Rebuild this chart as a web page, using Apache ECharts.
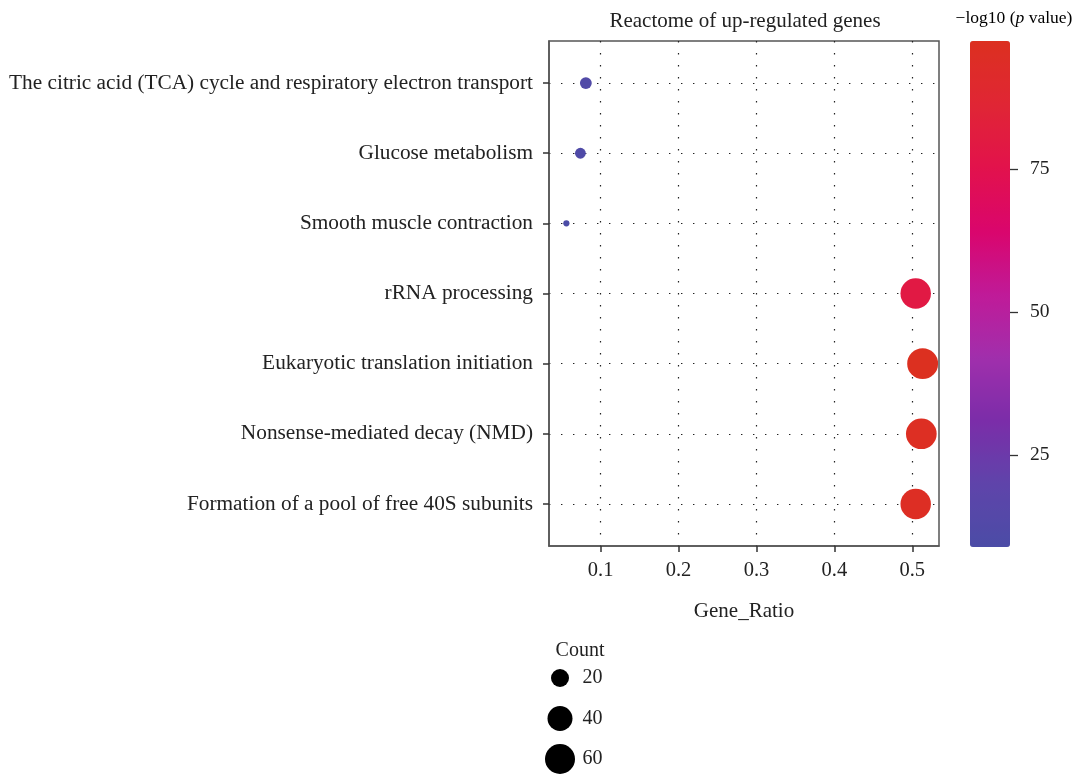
<!DOCTYPE html>
<html>
<head>
<meta charset="utf-8">
<script src="https://cdn.jsdelivr.net/npm/echarts@6/dist/echarts.min.js"></script>
<style>
    html, body { margin: 0; padding: 0; background: #fff; }
    #chart { width: 1074px; height: 775px; }
</style>
</head>
<body>
<div id="chart"></div>
<script>
(function () {
    'use strict';

    // pathways, top to bottom
    var pathways = [
        'The citric acid (TCA) cycle and respiratory electron transport',
        'Glucose metabolism',
        'Smooth muscle contraction',
        'rRNA processing',
        'Eukaryotic translation initiation',
        'Nonsense-mediated decay (NMD)',
        'Formation of a pool of free 40S subunits'
    ];
    var geneRatio = [0.081, 0.074, 0.056, 0.5044, 0.5133, 0.5116, 0.5044];
    var logP = [12, 11, 8.9, 79, 97.4, 96, 95];
    var counts = [10, 9, 7, 62, 64, 63, 62];

    var ratioTicks = [0.1, 0.2, 0.3, 0.4, 0.5];
    var colorTicks = [25, 50, 75];
    var legendCounts = [20, 40, 60];

    var FONT = 'Liberation Serif';
    var TXT = '#222';

    var cMin = Math.min.apply(null, counts);
    var cMax = Math.max.apply(null, counts);

    // ggplot-like area scale: diameter grows with sqrt of rescaled count
    function sizeOf(c) {
        var t = Math.max(0, (c - cMin) / (cMax - cMin));
        return 6.2 + 24.7 * Math.sqrt(t);
    }

    var points = pathways.map(function (name, i) {
        return [geneRatio[i], i + 1, logP[i], counts[i]];
    });

    var rowIdx = pathways.map(function (d, i) { return i + 1; });

    var chart = echarts.init(document.getElementById('chart'));

    var dotted = { type: [1.4, 10.6], color: '#222', width: 1.2 };

    chart.setOption({
        backgroundColor: '#fff',
        animation: false,
        textStyle: { fontFamily: FONT },
        grid: [
            { left: 549, top: 41, width: 390, height: 505, show: true,
              borderColor: '#555', borderWidth: 1.5, backgroundColor: 'transparent' },
            // colour bar scale, sits just right of the bar
            { left: 1010, top: 41, width: 40, height: 506 },
            { left: 550, top: 678, width: 20, height: 81 }
        ],
        xAxis: [
            {
                gridIndex: 0, type: 'value', min: 0.0337, max: 0.5343,
                axisLine: { show: true, lineStyle: { color: '#555', width: 1.5 } },
                axisTick: { show: true, length: 6, customValues: ratioTicks,
                            lineStyle: { color: '#333', width: 1.5 } },
                axisLabel: { customValues: ratioTicks, margin: 14, fontSize: 20.5,
                             color: TXT, fontFamily: FONT,
                             formatter: function (v) { return v.toFixed(1); } },
                splitLine: { show: true, lineStyle: dotted },
                name: 'Gene_Ratio', nameLocation: 'middle', nameGap: 55,
                nameTextStyle: { fontSize: 21, color: TXT, fontFamily: FONT }
            },
            { gridIndex: 1, type: 'value', show: false, min: 0, max: 1 },
            { gridIndex: 2, type: 'value', show: false, min: 0, max: 1 }
        ],
        yAxis: [
            {
                gridIndex: 0, type: 'value', min: 0.4, max: 7.6, inverse: true,
                axisLine: { show: true, lineStyle: { color: '#555', width: 1.5 } },
                axisTick: { show: true, length: 6, customValues: rowIdx,
                            lineStyle: { color: '#333', width: 1.5 } },
                axisLabel: { customValues: rowIdx, margin: 16, fontSize: 21.3,
                             color: TXT, fontFamily: FONT,
                             formatter: function (v) { return pathways[Math.round(v) - 1] || ''; } },
                splitLine: { show: true, lineStyle: dotted }
            },
            {
                gridIndex: 1, type: 'value', min: 8.9, max: 97.4, position: 'left',
                axisLine: { show: false },
                axisTick: { show: true, inside: true, length: 8, customValues: colorTicks,
                            lineStyle: { color: '#333', width: 1.3 } },
                axisLabel: { customValues: colorTicks, inside: true, margin: 20, fontSize: 19.5,
                             color: TXT, fontFamily: FONT },
                splitLine: { show: false }
            },
            { gridIndex: 2, type: 'value', show: false, min: 20, max: 60, inverse: true }
        ],
        visualMap: {
            type: 'continuous', seriesIndex: 0, dimension: 2,
            min: 8.9, max: 97.4, calculable: false, hoverLink: false,
            left: 970, top: 41, itemWidth: 40, itemHeight: 506, padding: 0,
            text: null, showLabel: false,
            inRange: {
                color: ['#4b4ca6', '#5f44aa', '#7b2da9', '#a12fac', '#c01a98',
                        '#da056c', '#e2124c', '#e02634', '#dc3020']
            }
        },
        graphic: [
            { type: 'text', x: 745, y: 21,
              style: { text: 'Reactome of up-regulated genes', font: '21px ' + FONT,
                       fill: TXT, align: 'center', verticalAlign: 'middle' } },
            { type: 'text', x: 1014, y: 18,
              style: { text: '{a|\u2212log10 (}{b|p}{a| value)}', align: 'center',
                       verticalAlign: 'middle',
                       rich: { a: { fontSize: 17.5, fontFamily: FONT, color: TXT },
                               b: { fontSize: 17.5, fontFamily: FONT, fontStyle: 'italic', color: TXT } } } },
            { type: 'text', x: 580, y: 651,
              style: { text: 'Count', font: '20px ' + FONT, fill: TXT,
                       align: 'center', verticalAlign: 'middle' } }
        ],
        series: [
            {
                type: 'scatter', xAxisIndex: 0, yAxisIndex: 0,
                data: points,
                symbolSize: function (d) { return sizeOf(d[3]); },
                itemStyle: { opacity: 1 },
                clip: false, z: 5
            },
            {
                type: 'scatter', xAxisIndex: 2, yAxisIndex: 2,
                data: legendCounts.map(function (c) { return [0.5, c]; }),
                symbolSize: function (d) { return sizeOf(d[1]); },
                itemStyle: { color: '#000', opacity: 1 },
                clip: false, silent: true
            },
            {
                type: 'scatter', xAxisIndex: 2, yAxisIndex: 2,
                data: legendCounts.map(function (c) { return [1.6, c]; }),
                symbolSize: 1,
                itemStyle: { color: 'rgba(0,0,0,0)', opacity: 1 },
                label: { show: true, position: 'right', distance: 0, fontSize: 20,
                         color: TXT, fontFamily: FONT, opacity: 1,
                         formatter: function (p) { return String(p.value[1]); } },
                clip: false, silent: true
            }
        ]
    });
})();
</script>
</body>
</html>
